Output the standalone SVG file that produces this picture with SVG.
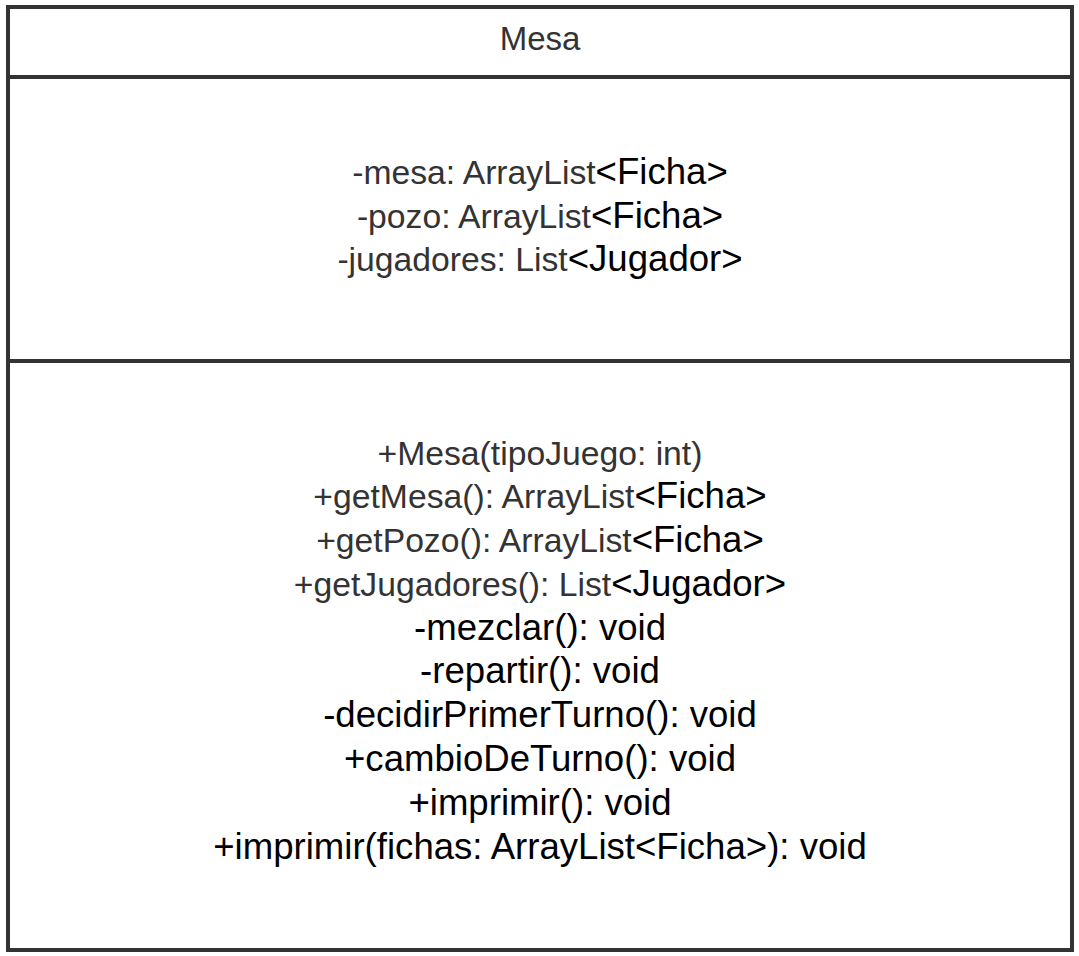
<svg xmlns="http://www.w3.org/2000/svg" width="1079" height="956" viewBox="0 0 1079 956">
<style>
.box{fill:#ffffff;stroke:#333333;stroke-width:4}
.div{stroke:#333333;stroke-width:4}
text{font-family:"Liberation Sans",Arial,sans-serif;text-anchor:middle}
.h{fill:#333333;font-size:33px}
.g{fill:#333333;font-size:33.7px}
.b{fill:#000000;font-size:36.6px}
.k{fill:#000000;font-size:36.6px}
</style>
<rect width="1079" height="956" fill="#ffffff"/>
<g id="mesa-class">
<rect class="box" x="8" y="7" width="1064" height="943"/>
<line class="div" x1="8" y1="77" x2="1072" y2="77"/>
<line class="div" x1="8" y1="361" x2="1072" y2="361"/>
<text class="h" x="540" y="50">Mesa</text>
<text x="540" y="184"><tspan class="g">-mesa: ArrayList</tspan><tspan class="b">&lt;Ficha&gt;</tspan></text>
<text x="540" y="228"><tspan class="g">-pozo: ArrayList</tspan><tspan class="b">&lt;Ficha&gt;</tspan></text>
<text x="540" y="271"><tspan class="g">-jugadores: List</tspan><tspan class="b">&lt;Jugador&gt;</tspan></text>
<text class="g" x="540" y="465">+Mesa(tipoJuego: int)</text>
<text x="540" y="508"><tspan class="g">+getMesa(): ArrayList</tspan><tspan class="b">&lt;Ficha&gt;</tspan></text>
<text x="540" y="552"><tspan class="g">+getPozo(): ArrayList</tspan><tspan class="b">&lt;Ficha&gt;</tspan></text>
<text x="540" y="596"><tspan class="g">+getJugadores(): List</tspan><tspan class="b">&lt;Jugador&gt;</tspan></text>
<text class="k" x="540" y="640">-mezclar(): void</text>
<text class="k" x="540" y="683">-repartir(): void</text>
<text class="k" x="540" y="727">-decidirPrimerTurno(): void</text>
<text class="k" x="540" y="771">+cambioDeTurno(): void</text>
<text class="k" x="540" y="815">+imprimir(): void</text>
<text class="k" x="540" y="859">+imprimir(fichas: ArrayList&lt;Ficha&gt;): void</text>
</g>
</svg>
